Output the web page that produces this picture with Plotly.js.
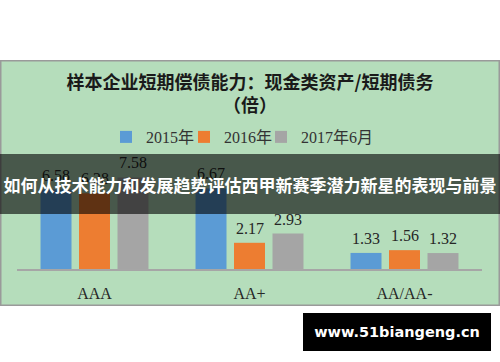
<!DOCTYPE html>
<html>
<head>
<meta charset="utf-8">
<script src="https://cdn.plot.ly/plotly-3.0.1.min.js"></script>
<style>html,body{margin:0;padding:0;background:#fff;}#chart{width:500px;height:362px;}</style>
</head>
<body>
<div id="chart"></div>
<script>
const categories = ['AAA', 'AA+', 'AA/AA-'];
const seriesNames = ['2015年', '2016年', '2017年6月'];
const values2015 = [6.58, 6.67, 1.33];
const values2016 = [6.28, 2.17, 1.56];
const values2017 = [7.58, 2.93, 1.32];
const seriesColors = ['#5B9BD5', '#ED7D31', '#A5A5A5'];
const chartTitle = '样本企业短期偿债能力：现金类资产/短期债务<br>（倍）';
const bannerText = '如何从技术能力和发展趋势评估西甲新赛季潜力新星的表现与前景';
const watermarkText = 'www.51biangeng.cn';

const W = 500, H = 362;
const M = {l: 17, r: 18, t: 150, b: 93};
const PW = W - M.l - M.r, PH = H - M.t - M.b;
const px2x = px => (px - M.l) / PW;
const py2y = py => (H - M.b - py) / PH;

const bargap = 0.255;
const allValues = [values2015, values2016, values2017];
const serif = 'Liberation Serif, Times New Roman, Noto Sans CJK SC, serif';
const legendIds = ['legend', 'legend2', 'legend3'];
const legendLeft = [106, 184, 261];

const traces = allValues.map((vals, i) => ({
  type: 'bar',
  name: seriesNames[i],
  x: categories,
  y: vals,
  legend: legendIds[i],
  marker: {color: seriesColors[i]},
  hoverinfo: 'skip'
}));

const slot = (1 - bargap) / allValues.length;
const labelAnns = [];
allValues.forEach((vals, si) => {
  vals.forEach((v, ci) => {
    labelAnns.push({
      xref: 'x', yref: 'y',
      x: ci + (si - (allValues.length - 1) / 2) * slot,
      y: v,
      text: v.toFixed(2),
      showarrow: false,
      yanchor: 'bottom',
      yshift: 4,
      font: {family: serif, size: 16, color: '#262626'}
    });
  });
});

const legendBase = {
  orientation: 'h',
  xanchor: 'left', xref: 'container',
  y: 1 - 137 / H, yanchor: 'middle', yref: 'container',
  font: {family: serif, size: 16, color: '#333333'},
  bgcolor: 'rgba(0,0,0,0)',
  itemwidth: 30,
  tracegroupgap: 0
};

const layout = {
  width: W, height: H,
  margin: M,
  paper_bgcolor: '#ffffff',
  plot_bgcolor: 'rgba(0,0,0,0)',
  barmode: 'group',
  bargap: bargap,
  bargroupgap: 0.195,
  showlegend: true,
  title: {
    text: chartTitle,
    x: 0.5, xref: 'container', xanchor: 'center',
    y: 1 - 89 / H, yref: 'container', yanchor: 'middle',
    font: {family: 'Noto Sans CJK SC, sans-serif', size: 18, color: '#1a1a1a', weight: 'bold'}
  },
  xaxis: {
    type: 'category',
    categoryorder: 'array', categoryarray: categories,
    showline: true, linecolor: '#A6A6A6', linewidth: 1.5,
    showgrid: false, zeroline: false, ticks: '',
    ticklabelstandoff: 9,
    tickfont: {family: serif, size: 16, color: '#262626'},
    fixedrange: true
  },
  yaxis: {
    range: [0, 9.52],
    visible: false, showgrid: false, zeroline: false,
    fixedrange: true
  },
  shapes: [{
    type: 'rect', xref: 'paper', yref: 'paper', layer: 'below',
    x0: px2x(0.75), x1: px2x(499.25), y0: py2y(306.5), y1: py2y(53.5),
    fillcolor: '#B5DDBB',
    line: {color: '#9A9A9A', width: 1.5}
  }],
  annotations: labelAnns.concat([
    {
      xref: 'paper', yref: 'paper',
      x: px2x(250), y: py2y(181),
      xanchor: 'center', yanchor: 'middle',
      width: 500, height: 60, borderpad: 0, borderwidth: 0,
      bgcolor: 'rgba(0,0,0,0.6)',
      text: '<b>' + bannerText + '</b>',
      showarrow: false,
      font: {family: 'Noto Sans CJK SC, sans-serif', size: 17, color: '#ffffff'}
    },
    {
      xref: 'paper', yref: 'paper',
      x: px2x(397), y: py2y(334),
      xanchor: 'center', yanchor: 'middle',
      width: 188, height: 38, borderpad: 0, borderwidth: 0,
      bgcolor: '#000000',
      text: '<b>' + watermarkText + '</b>',
      showarrow: false,
      font: {family: 'DejaVu Sans, Verdana, sans-serif', size: 14.5, color: '#ffffff'}
    }
  ])
};
legendIds.forEach((id, i) => {
  layout[id] = Object.assign({}, legendBase, {x: legendLeft[i] / W});
});

Plotly.newPlot('chart', traces, layout, {displayModeBar: false, staticPlot: true});
</script>
</body>
</html>
